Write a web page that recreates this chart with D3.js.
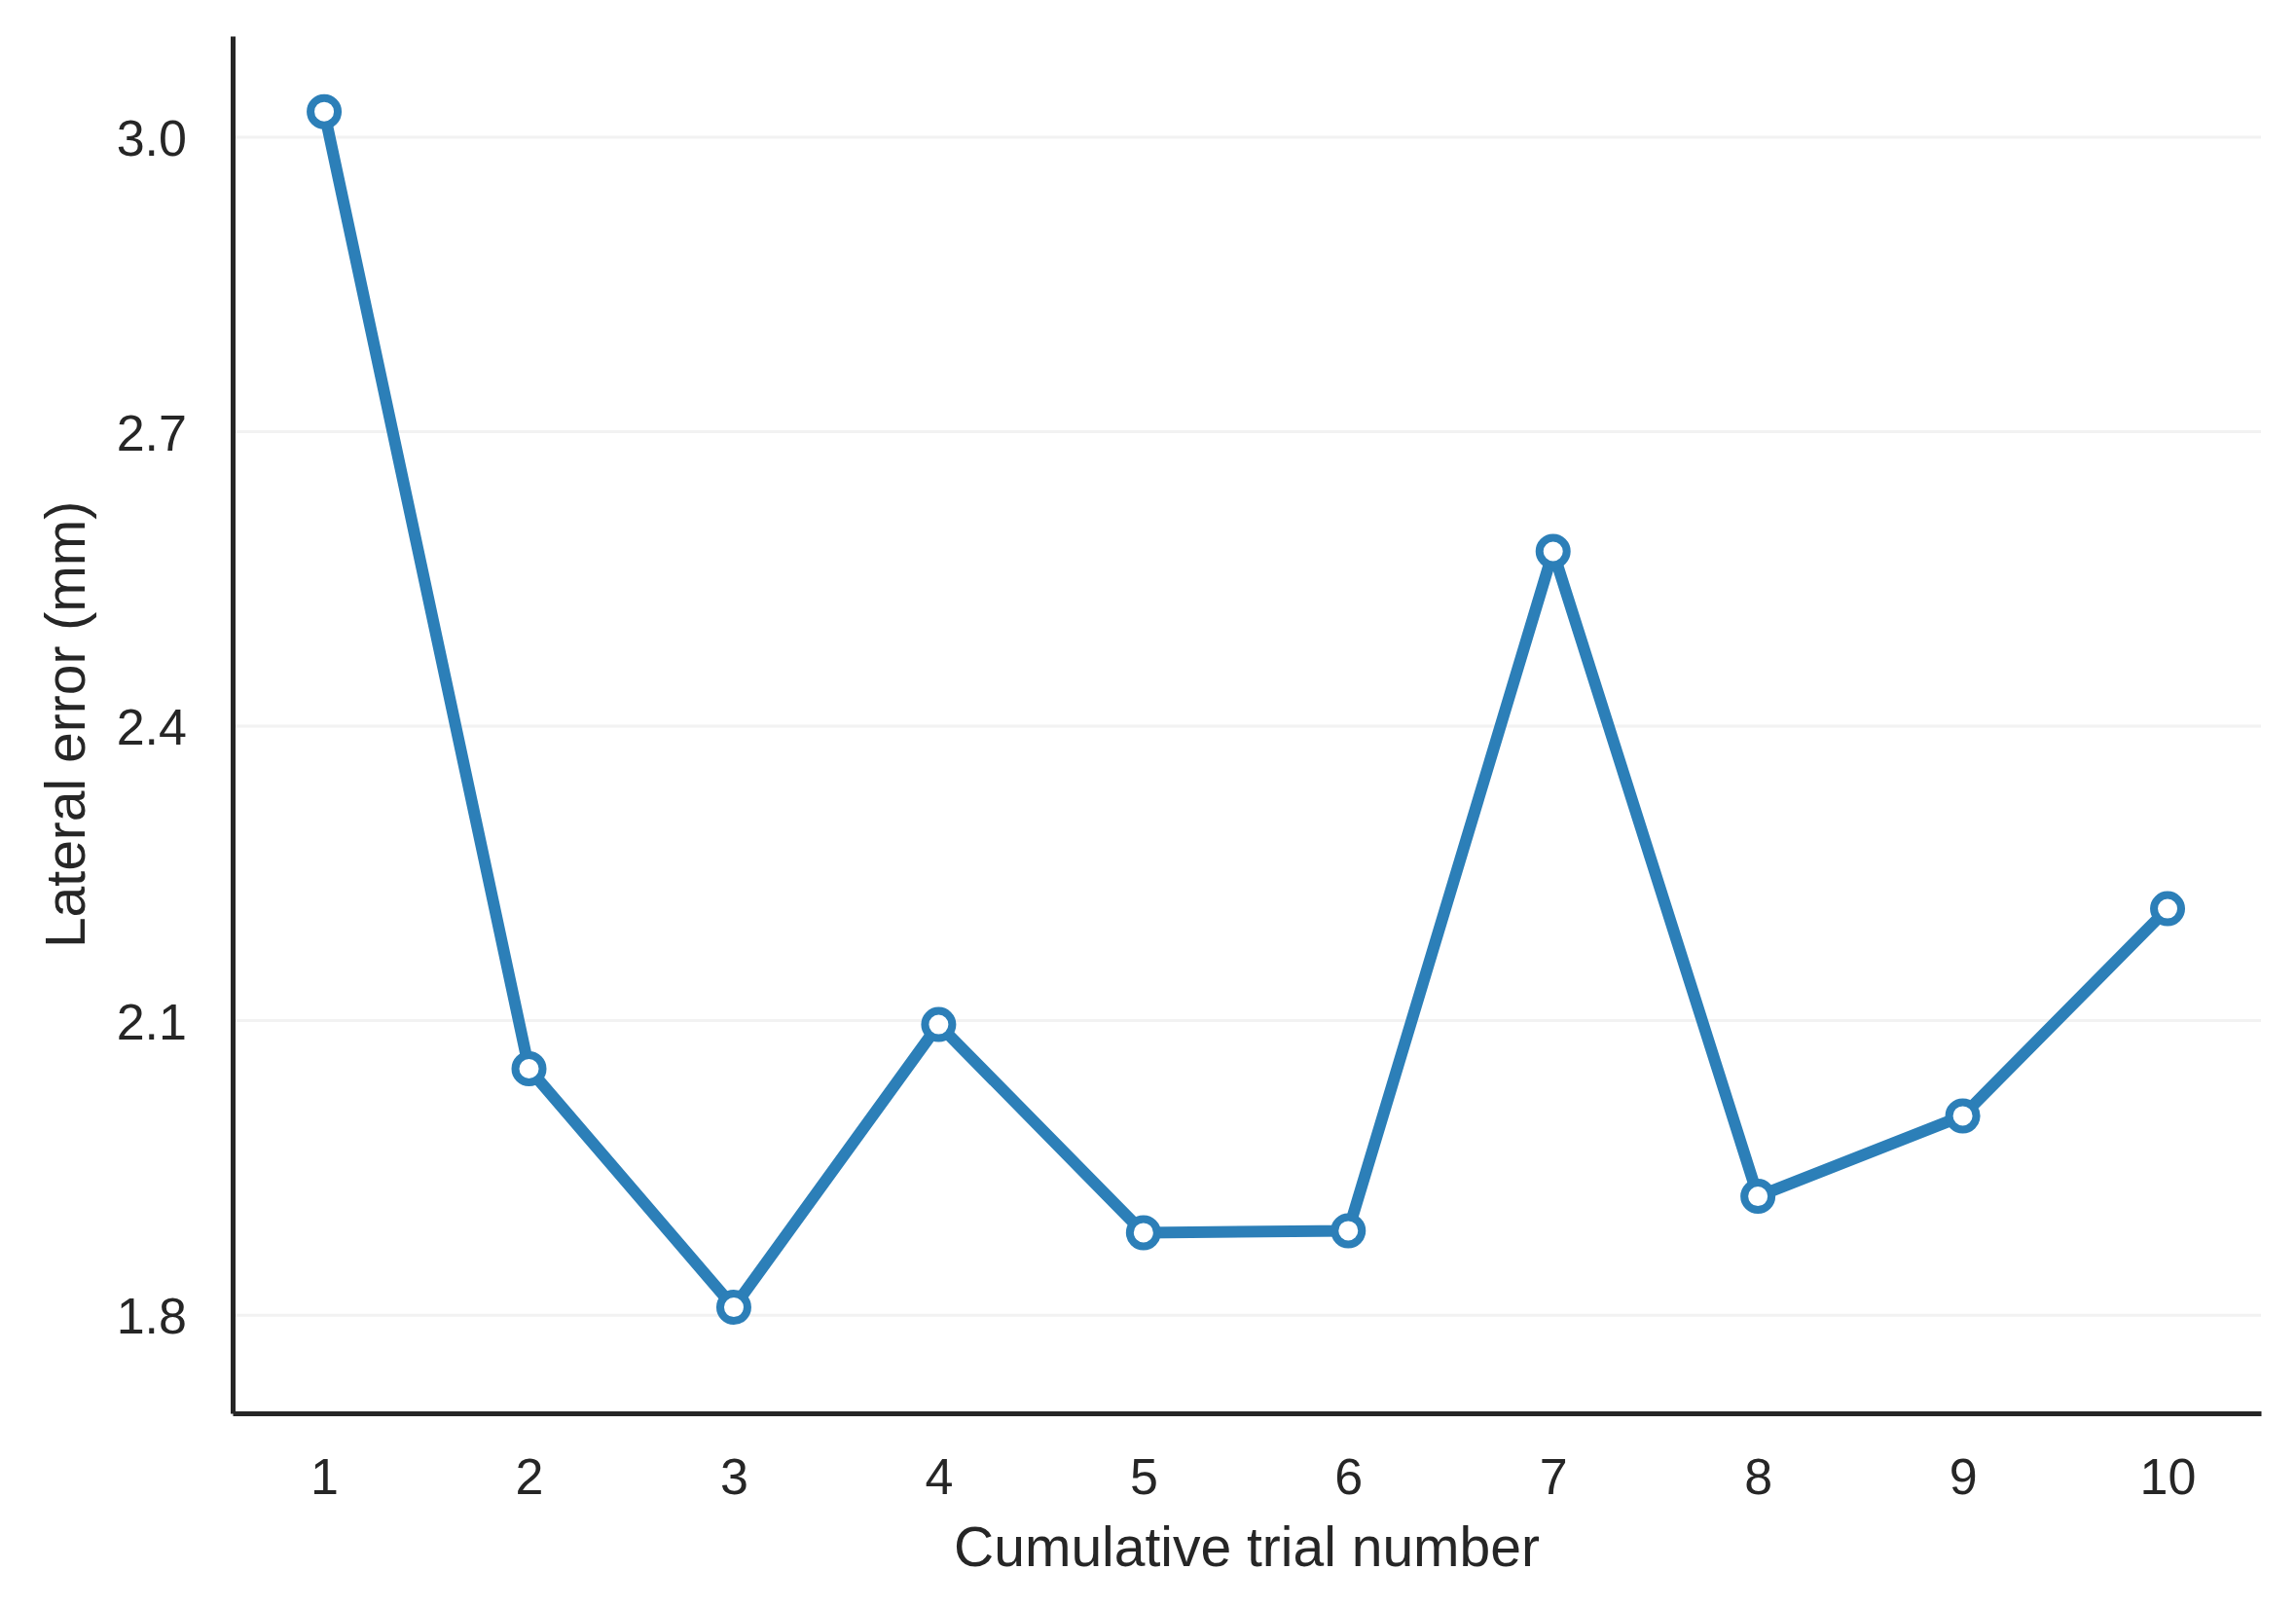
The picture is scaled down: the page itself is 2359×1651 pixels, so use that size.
<!DOCTYPE html>
<html>
<head>
<meta charset="utf-8">
<script src="https://cdn.jsdelivr.net/npm/d3@7"></script>
<style>
  body { margin: 0; background: #fff; }
  svg { display: block; font-family: "Liberation Sans", Arial, sans-serif; }
</style>
</head>
<body>
<svg id="chart"></svg>
<script>
const width = 2359;
const height = 1651;
const margin = { left: 239, top: 37, right: 36, bottom: 199 };

// values
const trials = [1, 2, 3, 4, 5, 6, 7, 8, 9, 10];
const lateralError = [3.026, 2.051, 1.808, 2.096, 1.884, 1.886, 2.578, 1.921, 2.003, 2.214];
const yTicks = [1.8, 2.1, 2.4, 2.7, 3.0];

const color = "#2c7fb8";
const ink = "#262626";

const svg = d3.select("svg#chart").attr("width", width).attr("height", height);

const x = d3.scaleLinear()
  .domain([0.553, 10.456])
  .range([margin.left, width - margin.right]);
const y = d3.scaleLinear()
  .domain([1.7, 3.103])
  .range([height - margin.bottom, margin.top]);

// faint horizontal grid
svg.append("g")
  .selectAll("line")
  .data(yTicks)
  .join("line")
  .attr("x1", margin.left)
  .attr("x2", width - margin.right)
  .attr("y1", (d) => y(d))
  .attr("y2", (d) => y(d))
  .attr("stroke", "#f2f2f2")
  .attr("stroke-width", 3);

// axes, no tick marks
const xAxis = svg.append("g")
  .attr("transform", `translate(0,${height - margin.bottom})`)
  .call(d3.axisBottom(x).tickValues(trials).tickFormat(d3.format("d")).tickSize(0).tickPadding(46));
const yAxis = svg.append("g")
  .attr("transform", `translate(${margin.left},0)`)
  .call(d3.axisLeft(y).tickValues(yTicks).tickFormat(d3.format(".1f")).tickSize(0).tickPadding(47));

for (const ax of [xAxis, yAxis]) {
  ax.select(".domain").attr("stroke", ink).attr("stroke-width", 5);
  ax.selectAll("text").attr("fill", ink).attr("font-size", 52);
}
yAxis.selectAll("text").attr("dy", "0.36em");

// axis titles
svg.append("text")
  .attr("x", (margin.left + width - margin.right) / 2)
  .attr("y", 1609)
  .attr("text-anchor", "middle")
  .attr("fill", ink)
  .attr("font-size", 57)
  .text("Cumulative trial number");

svg.append("text")
  .attr("transform", `translate(87,${(margin.top + height - margin.bottom) / 2}) rotate(-90)`)
  .attr("text-anchor", "middle")
  .attr("fill", ink)
  .attr("font-size", 57)
  .text("Lateral error (mm)");

// the series
const points = trials.map((t, i) => ({ t, v: lateralError[i] }));

svg.append("path")
  .datum(points)
  .attr("fill", "none")
  .attr("stroke", color)
  .attr("stroke-width", 12)
  .attr("stroke-linejoin", "round")
  .attr("d", d3.line().x((d) => x(d.t)).y((d) => y(d.v)));

svg.append("g")
  .selectAll("circle")
  .data(points)
  .join("circle")
  .attr("cx", (d) => x(d.t))
  .attr("cy", (d) => y(d.v))
  .attr("r", 14)
  .attr("fill", "#fff")
  .attr("stroke", color)
  .attr("stroke-width", 8);
</script>
</body>
</html>
